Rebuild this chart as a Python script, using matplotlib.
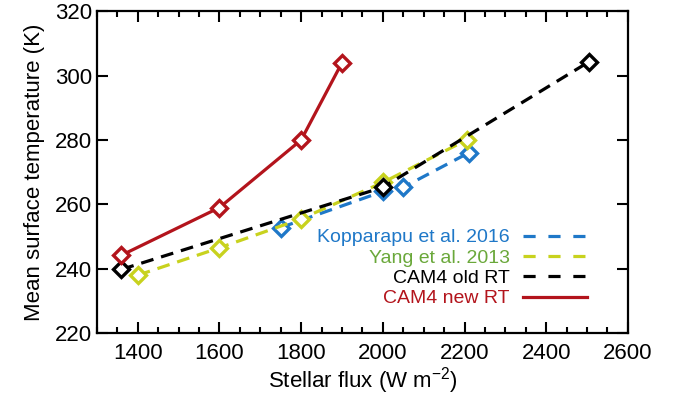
import matplotlib.pyplot as plt
from matplotlib.ticker import MultipleLocator

plt.rcParams['font.family'] = ['Liberation Sans', 'DejaVu Sans']

# data
kop_flux = [1750, 2000, 2050, 2210]
kop_temp = [252.8, 264.0, 265.3, 276.0]

yang_flux = [1400, 1600, 1800, 2000, 2205]
yang_temp = [238.0, 246.5, 255.5, 266.8, 280.0]

old_flux = [1360, 2000, 2505]
old_temp = [239.8, 265.3, 304.3]

new_flux = [1360, 1600, 1800, 1900]
new_temp = [244.2, 259.0, 280.0, 304.0]

blue = '#1f78c8'
yellow = '#c8d21e'
yellow_txt = '#6aa83a'
black = 'black'
red = '#b3141c'

fig = plt.figure(figsize=(6.73, 3.99), dpi=100)
ax = fig.add_axes([0.144, 0.165, 0.789, 0.807])

mk = dict(marker='D', markersize=8.5, markerfacecolor='white', markeredgewidth=2.4)
dash = (4, 2.5)

ax.plot(kop_flux, kop_temp, color=blue, lw=2.3, dashes=dash, markeredgecolor=blue, **mk)
ax.plot(yang_flux, yang_temp, color=yellow, lw=2.3, dashes=dash, markeredgecolor=yellow, **mk)
ax.plot(old_flux, old_temp, color=black, lw=2.3, dashes=dash, markeredgecolor=black, **mk)
ax.plot(new_flux, new_temp, color=red, lw=2.3, markeredgecolor=red, **mk)

# legend handles without markers
h1, = ax.plot([], [], color=blue, lw=2.3, dashes=(3.8, 4))
h2, = ax.plot([], [], color=yellow, lw=2.3, dashes=(3.8, 4))
h3, = ax.plot([], [], color=black, lw=2.3, dashes=(3.8, 4))
h4, = ax.plot([], [], color=red, lw=2.3)
leg = ax.legend([h1, h2, h3, h4],
                ['Kopparapu et al. 2016', 'Yang et al. 2013', 'CAM4 old RT', 'CAM4 new RT'],
                loc='lower right', bbox_to_anchor=(0.942, 0.05), frameon=False,
                markerfirst=False, fontsize=14, handlelength=3.3, handletextpad=0.7,
                labelspacing=0.14, borderpad=0)
for t, c in zip(leg.get_texts(), [blue, yellow_txt, black, red]):
    t.set_color(c)

ax.set_xlim(1300, 2600)
ax.set_ylim(220, 320)
ax.xaxis.set_major_locator(MultipleLocator(200))
ax.xaxis.set_minor_locator(MultipleLocator(50))
ax.yaxis.set_major_locator(MultipleLocator(20))
ax.tick_params(which='both', direction='in', top=True, right=True, width=1.5, labelsize=16)
ax.tick_params(which='major', length=8)
ax.tick_params(which='minor', length=4)
ax.tick_params(axis='x', pad=7)
for s in ax.spines.values():
    s.set_linewidth(1.6)

ax.set_xlabel(r'Stellar flux (W m$^{\mathregular{-2}}$)', fontsize=16, labelpad=1)
ax.set_ylabel('Mean surface temperature (K)', fontsize=16, labelpad=7)

fig.savefig('out.png', dpi=100)
